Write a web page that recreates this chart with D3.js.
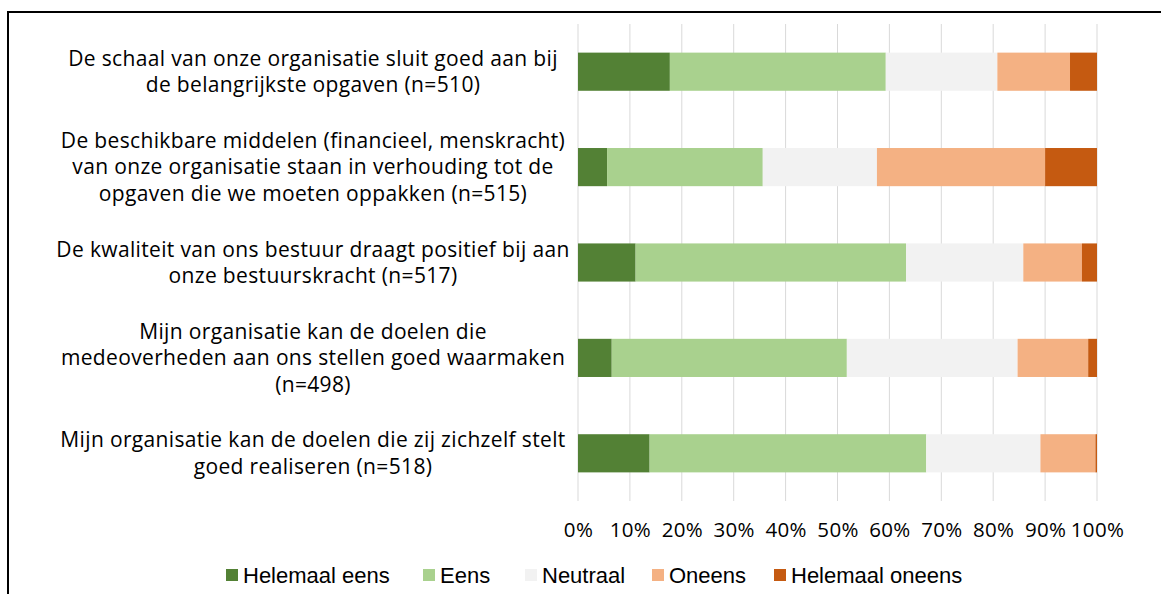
<!DOCTYPE html>
<html>
<head>
<meta charset="utf-8">
<script src="https://cdn.jsdelivr.net/npm/d3@7"></script>
<style>
  body { margin: 0; background: #fff; }
  text { font-family: "Open Sans", "Liberation Sans", sans-serif; fill: #000; }
</style>
</head>
<body>
<div id="chart"></div>
<script>
  const chartWidth = 1161;
  const chartHeight = 594;

  // data
  const categories = [
    ["De schaal van onze organisatie sluit goed aan bij", "de belangrijkste opgaven (n=510)"],
    ["De beschikbare middelen (financieel, menskracht)", "van onze organisatie staan in verhouding tot de", "opgaven die we moeten oppakken (n=515)"],
    ["De kwaliteit van ons bestuur draagt positief bij aan", "onze bestuurskracht (n=517)"],
    ["Mijn organisatie kan de doelen die", "medeoverheden aan ons stellen goed waarmaken", "(n=498)"],
    ["Mijn organisatie kan de doelen die zij zichzelf stelt", "goed realiseren (n=518)"]
  ];
  const seriesNames = ["Helemaal eens", "Eens", "Neutraal", "Oneens", "Helemaal oneens"];
  const seriesColors = ["#538135", "#a9d18e", "#f2f2f2", "#f4b183", "#c55a11"];
  const helemaalEens = [17.7, 5.6, 11.1, 6.5, 13.8];
  const eens = [41.6, 30.0, 52.1, 45.3, 53.3];
  const neutraal = [21.5, 22.0, 22.6, 32.9, 22.0];
  const oneens = [14.0, 32.4, 11.3, 13.6, 10.6];
  const helemaalOneens = [5.2, 10.0, 2.9, 1.7, 0.3];
  const tickValues = [0, 10, 20, 30, 40, 50, 60, 70, 80, 90, 100];

  const rows = categories.map((c, i) => ({
    key: i,
    "Helemaal eens": helemaalEens[i],
    "Eens": eens[i],
    "Neutraal": neutraal[i],
    "Oneens": oneens[i],
    "Helemaal oneens": helemaalOneens[i]
  }));

  const svg = d3.select("#chart").append("svg")
    .attr("width", chartWidth)
    .attr("height", chartHeight);

  svg.append("rect").attr("width", chartWidth).attr("height", chartHeight).attr("fill", "#fff");

  // frame (only left and top are visible in the crop)
  svg.append("path")
    .attr("d", `M8,${chartHeight} V12 H${chartWidth}`)
    .attr("fill", "none")
    .attr("stroke", "#000")
    .attr("stroke-width", 2);

  // scales
  const x = d3.scaleLinear().domain([0, 100]).range([578, 1097]);
  const y = d3.scaleBand()
    .domain(d3.range(categories.length))
    .range([24, 501])
    .paddingInner(0.6)
    .paddingOuter(0.3);

  // gridlines
  svg.append("g")
    .selectAll("line")
    .data(tickValues)
    .enter()
    .append("line")
    .attr("x1", d => x(d)).attr("x2", d => x(d))
    .attr("y1", 24).attr("y2", 501)
    .attr("stroke", "#d9d9d9")
    .attr("stroke-width", 1);

  // stacked bars
  const stack = d3.stack().keys(seriesNames);
  const layers = stack(rows);

  svg.append("g")
    .selectAll("g")
    .data(layers)
    .enter()
    .append("g")
    .attr("fill", (d, i) => seriesColors[i])
    .selectAll("rect")
    .data(d => d)
    .enter()
    .append("rect")
    .attr("x", d => x(d[0]))
    .attr("width", d => x(d[1]) - x(d[0]))
    .attr("y", d => y(d.data.key))
    .attr("height", y.bandwidth());

  // x axis
  const xAxis = svg.append("g")
    .attr("transform", "translate(0,519)")
    .call(d3.axisBottom(x).tickValues(tickValues).tickFormat(d => d + "%").tickSize(0));
  xAxis.select(".domain").remove();
  xAxis.selectAll("text")
    .attr("dy", "0.71em")
    .style("font-size", "20.5px")
    .style("letter-spacing", "0.3px")
    .style("font-family", "\"Open Sans\", sans-serif");

  // category labels
  const lineHeight = 26.5;
  const labels = svg.append("g")
    .selectAll("text")
    .data(categories)
    .enter()
    .append("text")
    .attr("text-anchor", "middle")
    .attr("x", 313)
    .attr("y", (d, i) => y(i) + y.bandwidth() / 2 - (d.length - 1) * lineHeight / 2)
    .style("font-size", "21px")
    .style("letter-spacing", "0.35px");
  labels.each(function(d) {
    const t = d3.select(this);
    const yy = +t.attr("y");
    d.forEach((line, j) => {
      t.append("tspan")
        .attr("x", 313)
        .attr("y", yy + j * lineHeight)
        .attr("dy", "0.35em")
        .text(line);
    });
  });

  // legend
  const legendX = [226, 423, 525, 652, 774];
  const legend = svg.append("g")
    .selectAll("g")
    .data(seriesNames)
    .enter()
    .append("g")
    .attr("transform", (d, i) => `translate(${legendX[i]},575)`);
  legend.append("rect")
    .attr("x", 0).attr("y", -6)
    .attr("width", 12).attr("height", 12)
    .attr("fill", (d, i) => seriesColors[i]);
  legend.append("text")
    .attr("x", 17)
    .attr("dy", "0.35em")
    .style("font-size", "22px")
    .style("font-family", "\"Liberation Sans\", Arial, sans-serif")
    .text(d => d);
</script>
</body>
</html>
